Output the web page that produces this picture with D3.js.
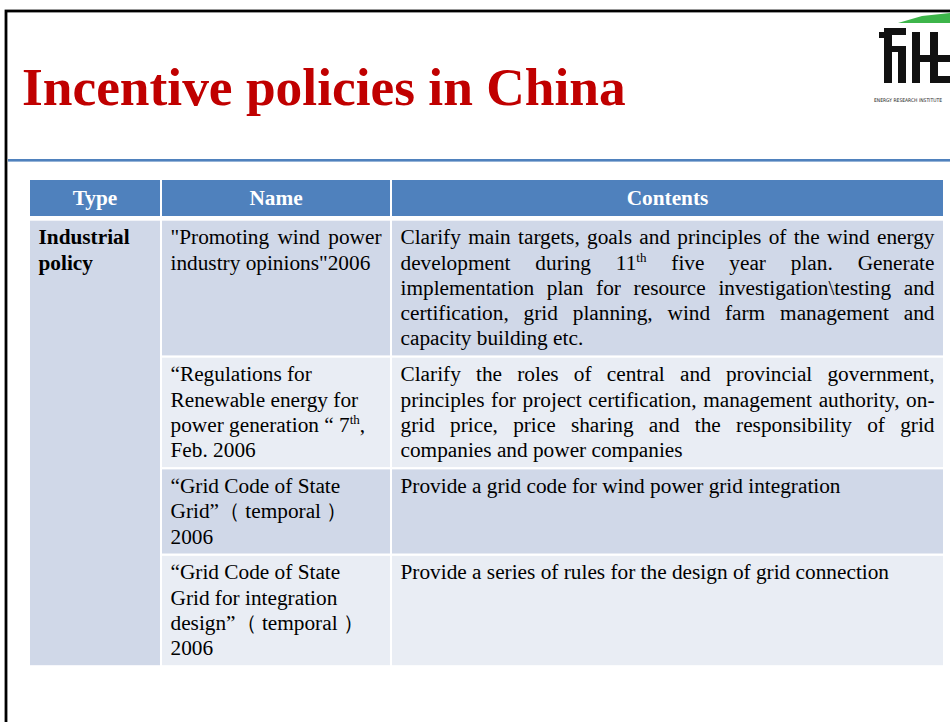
<!DOCTYPE html>
<html>
<head>
<meta charset="utf-8">
<script src="https://cdn.jsdelivr.net/npm/d3@7"></script>
<style>
  html, body { margin: 0; padding: 0; background: #fff; }
  svg { display: block; font-family: "Liberation Serif", "Times New Roman", serif; }
</style>
</head>
<body>
<svg id="slide" width="950" height="722"></svg>
<script>
// Table content ("^th" marks a superscript)
const title = "Incentive policies in China";
const headers = ["Type", "Name", "Contents"];
const policyType = ["Industrial", "policy"];
const policyNames = [
  ['"Promoting wind power', 'industry opinions"2006'],
  ["\u201cRegulations for", "Renewable energy for", "power generation \u201c 7^th,", "Feb. 2006"],
  ["\u201cGrid Code of State", "Grid\u201d\uff08 temporal \uff09", "2006"],
  ["\u201cGrid Code of State", "Grid for integration", "design\u201d\uff08 temporal \uff09", "2006"]
];
const nameJustified = [true, false, false, false];
const policyContents = [
  ["Clarify main targets, goals and principles of the wind energy",
   "development during 11^th five year plan. Generate",
   "implementation plan for resource investigation\\testing and",
   "certification, grid planning, wind farm management and",
   "capacity building etc."],
  ["Clarify the roles of central and provincial government,",
   "principles for project certification, management authority, on-",
   "grid price, price sharing and the responsibility of grid",
   "companies and power companies"],
  ["Provide a grid code for wind power grid integration"],
  ["Provide a series of rules for the design of grid connection"]
];
const contentsJustified = [true, true, false, false];

// Layout
const W = 950, H = 722;
const tableLeft = 30, tableTop = 180, headerH = 36, headerGap = 4.7, rowGap = 2.3;
const colWidths = [130, 228, 551], colGap = 2;
const lineH = 25.3, rowPad = 8.2, padX = 8.5, firstBase = 23.5;
const fontSize = 21.3;
const headerFill = "#4F81BD", darkFill = "#D0D8E8", lightFill = "#E9EDF4";

const svg = d3.select("#slide");

// Slide frame
svg.append("rect").attr("x", 6).attr("y", 11).attr("width", W).attr("height", H)
  .attr("fill", "none").attr("stroke", "#000").attr("stroke-width", 2.8);
svg.append("line").attr("x1", 8).attr("x2", W).attr("y1", 160).attr("y2", 160)
  .attr("stroke", "#4F81BD").attr("stroke-width", 2);
svg.append("line").attr("x1", 8).attr("x2", W).attr("y1", 161.5).attr("y2", 161.5)
  .attr("stroke", "#95B3D7").attr("stroke-width", 1);

// Title
svg.append("text").attr("x", 22).attr("y", 105)
  .attr("font-size", 53.4).attr("font-weight", "bold").attr("fill", "#C00000")
  .text(title);

// Logo
const logo = svg.append("g");
logo.append("polygon").attr("points", "898,23 922,16 950,13 950,23").attr("fill", "#3DB54A");
[[884, 28, 22, 7], [884, 32, 8, 51], [898, 46, 8, 37], [884, 46, 22, 6], [879, 32, 8, 6],
 [912, 32, 8, 51], [930, 32, 8, 51], [912, 55, 38, 7], [930, 76, 20, 7]]
  .forEach(r => logo.append("rect").attr("x", r[0]).attr("y", r[1])
    .attr("width", r[2]).attr("height", r[3]).attr("fill", "#111"));
logo.append("text").attr("x", 874).attr("y", 102).attr("font-size", 5)
  .attr("textLength", 68).attr("lengthAdjust", "spacingAndGlyphs")
  .attr("font-family", "DejaVu Sans").attr("fill", "#222").text("ENERGY RESEARCH INSTITUTE");

// Columns
const colX = d3.cumsum([0].concat(colWidths.map(w => w + colGap))).map(v => v + tableLeft);
const x = d3.scaleOrdinal().domain(headers).range(colX);
const colW = d3.scaleOrdinal().domain(headers).range(colWidths);

// Rows: height follows the number of text lines
const rowLines = policyNames.map((n, i) => Math.max(n.length, policyContents[i].length));
const rowH = rowLines.map(n => n * lineH + rowPad);
const rowTop = [];
rowH.reduce((acc, h, i) => { rowTop[i] = acc; return acc + h + rowGap; }, tableTop + headerH + headerGap);
const tableBottom = rowTop[rowTop.length - 1] + rowH[rowH.length - 1];

// Rich text with superscripts
function appendRich(text, str) {
  const parts = str.split(/\^([a-z]+)/);
  let raised = false;
  parts.forEach((p, i) => {
    if (i % 2 === 1) {
      text.append("tspan").attr("dy", -8).attr("font-size", 13).text(p);
      raised = true;
    } else if (p.length) {
      const t = text.append("tspan").text(p);
      if (raised) { t.attr("dy", 8).attr("font-size", fontSize); raised = false; }
    }
  });
}

function drawLine(g, str, x0, y, width, justify, weight) {
  if (!justify) {
    const t = g.append("text").attr("x", x0).attr("y", y)
      .attr("font-size", fontSize).attr("font-weight", weight || "normal").attr("fill", "#000")
      .attr("xml:space", "preserve");
    appendRich(t, str);
    return;
  }
  const words = str.split(" ").filter(w => w.length);
  const nodes = words.map(w => {
    const t = g.append("text").attr("y", y).attr("font-size", fontSize).attr("fill", "#000");
    appendRich(t, w);
    return t;
  });
  const widths = nodes.map(n => n.node().getComputedTextLength());
  const gap = (width - d3.sum(widths)) / (words.length - 1);
  let cx = x0;
  nodes.forEach((n, i) => { n.attr("x", cx); cx += widths[i] + gap; });
}

// Header
const head = svg.append("g");
headers.forEach(h => {
  head.append("rect").attr("x", x(h)).attr("y", tableTop).attr("width", colW(h)).attr("height", headerH)
    .attr("fill", headerFill);
  head.append("text").attr("x", x(h) + colW(h) / 2).attr("y", tableTop + 24.5)
    .attr("text-anchor", "middle").attr("font-size", fontSize).attr("font-weight", "bold")
    .attr("fill", "#fff").text(h);
});

// Body
const body = svg.append("g");
body.append("rect").attr("x", x("Type")).attr("y", rowTop[0]).attr("width", colW("Type"))
  .attr("height", tableBottom - rowTop[0]).attr("fill", darkFill);
policyType.forEach((s, i) => drawLine(body, s, x("Type") + padX, rowTop[0] + firstBase + i * lineH,
  colW("Type") - 2 * padX, false, "bold"));

policyNames.forEach((lines, r) => {
  const fill = r % 2 === 0 ? darkFill : lightFill;
  ["Name", "Contents"].forEach(c => {
    body.append("rect").attr("x", x(c)).attr("y", rowTop[r]).attr("width", colW(c))
      .attr("height", rowH[r]).attr("fill", fill);
  });
  lines.forEach((s, i) => drawLine(body, s, x("Name") + padX, rowTop[r] + firstBase + i * lineH,
    colW("Name") - 2 * padX, nameJustified[r] && i < lines.length - 1));
  const cl = policyContents[r];
  cl.forEach((s, i) => drawLine(body, s, x("Contents") + padX, rowTop[r] + firstBase + i * lineH,
    colW("Contents") - 2 * padX, contentsJustified[r] && i < cl.length - 1));
});
</script>
</body>
</html>
